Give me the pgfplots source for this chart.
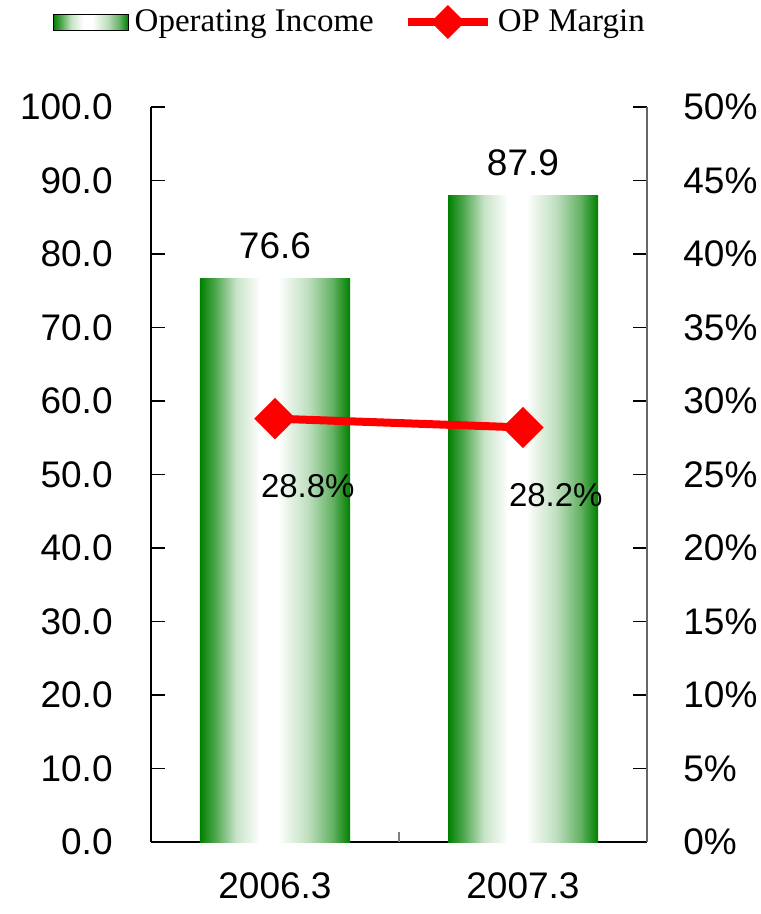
\documentclass[border=0pt]{standalone}
\usepackage{pgfplots}
\pgfplotsset{compat=1.18}
\usepackage{fontspec}
\setmainfont{Liberation Sans}
\newfontfamily\legfont{Liberation Serif}
\definecolor{bargreen}{RGB}{0,128,0}
\pgfdeclarehorizontalshading{barshade}{100bp}{color(0bp)=(bargreen); color(25bp)=(bargreen); color(30bp)=(bargreen!70!white); color(37bp)=(bargreen!22!white); color(45bp)=(white); color(51bp)=(white); color(61bp)=(bargreen!25!white); color(69bp)=(bargreen!60!white); color(75bp)=(bargreen); color(100bp)=(bargreen)}
\pgfplotsset{lineleg/.style={legend image code/.code={\draw[mark repeat=2, mark phase=2, mark size=4pt, ##1] plot coordinates {(0pt,0pt) (20pt,0pt) (40pt,0pt)};}}}
\begin{document}
\begin{tikzpicture}
\path[use as bounding box] (-75.5pt,-36pt) rectangle (304.5pt,421pt);
\begin{axis}[
  at={(0,0)}, anchor=south west,
  scale only axis, width=248pt, height=367.5pt,
  xmin=-0.5, xmax=1.5, ymin=0, ymax=100,
  axis x line*=bottom, axis y line*=left,
  axis line style={black, line width=0.8pt},
  tick align=inside,
  major tick length=7pt,
  tick style={black, line width=0.8pt},
  xtick={0,1}, xticklabels={2006.3,2007.3},
  major x tick style={draw=none},
  extra x ticks={0.5}, extra x tick labels={},
  extra x tick style={tick align=inside, major tick length=5pt, major x tick style={draw=gray, line width=0.8pt}},
  xticklabel style={font=\fontsize{18.5}{20}\selectfont, anchor=north, inner sep=0pt, yshift=-8pt},
  ytick={0,10,...,100},
  yticklabels={0.0,10.0,20.0,30.0,40.0,50.0,60.0,70.0,80.0,90.0,100.0},
  yticklabel style={font=\fontsize{18.5}{20}\selectfont, anchor=east, inner sep=0pt, xshift=-19pt},
  ybar, bar width=75pt, bar shift=0pt,
  point meta=explicit symbolic,
  nodes near coords,
  every node near coord/.append style={font=\fontsize{18.5}{20}\selectfont, anchor=south, inner sep=0pt, yshift=10pt},
]
\addplot[draw=none, shade, shading=barshade, bar shift=0pt] coordinates {(0,76.6) [76.6]};
\addplot[draw=none, shade, shading=barshade, bar shift=0pt] coordinates {(1,87.9) [87.9]};
\end{axis}
\begin{axis}[
  at={(0,0)}, anchor=south west,
  scale only axis, width=248pt, height=367.5pt,
  xmin=-0.5, xmax=1.5, ymin=0, ymax=50,
  axis x line=none, axis y line*=right,
  axis line style={gray!80!black, line width=0.8pt},
  tick align=inside,
  major tick length=7pt,
  tick style={black, line width=0.8pt},
  ytick={0,5,...,50},
  yticklabels={0\%,5\%,10\%,15\%,20\%,25\%,30\%,35\%,40\%,45\%,50\%},
  yticklabel style={font=\fontsize{18.5}{20}\selectfont, anchor=west, inner sep=0pt, xshift=18pt},
  point meta=explicit symbolic,
  legend style={draw=none, fill=none, at={(0.405,1.1156)}, anchor=center,
    legend columns=2, font=\legfont\fontsize{16.5}{18}\selectfont,
    /tikz/every even column/.append style={column sep=12pt},
    nodes={inner sep=3pt}},
]
\addlegendimage{legend image code/.code={\path[shade, shading=barshade] (0pt,-4pt) rectangle (37.5pt,4pt);}}
\addlegendentry{Operating Income}
\addplot[red, line width=4pt, mark=square*, mark size=5.3pt,
  mark options={rotate=45, solid},
  lineleg,
  nodes near coords,
  every node near coord/.append style={black, font=\fontsize{16.5}{18}\selectfont, anchor=north west, inner sep=0pt, xshift=-9pt, yshift=-26pt}]
  coordinates {(0,28.8) [28.8\%] (1,28.2) [28.2\%]};
\addlegendentry{OP Margin}
\end{axis}
\end{tikzpicture}
\end{document}
